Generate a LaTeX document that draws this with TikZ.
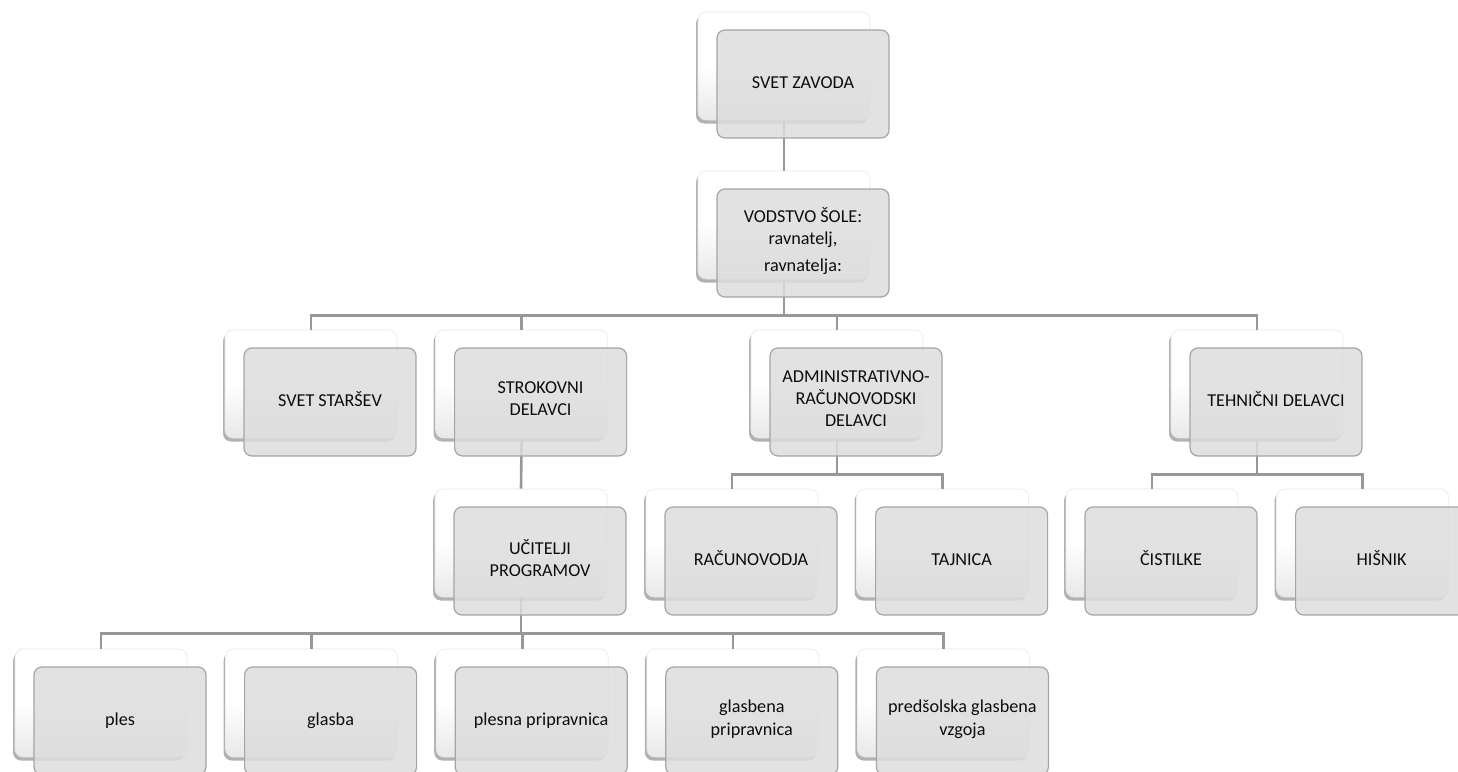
\documentclass[tikz,border=0pt]{standalone}
\usepackage{fontspec}
\setmainfont{Carlito}
\usetikzlibrary{positioning, shadows}

\definecolor{cardgray}{RGB}{221,221,221}
\definecolor{cardline}{RGB}{165,165,165}
\definecolor{linkgray}{RGB}{152,152,152}

\tikzset{
    back/.style={rectangle, rounded corners=8pt, minimum width=172pt, minimum height=108pt, inner sep=0pt,
        draw=black!9, line width=0.6pt,
        top color=white, bottom color=black!9, middle color=white,
        drop shadow={shadow xshift=-2pt, shadow yshift=-3.5pt, opacity=0.4, fill=black!75}},
    card/.style={rectangle, rounded corners=8pt, minimum width=172pt, minimum height=108pt, inner sep=2pt,
        xshift=19pt, yshift=-18pt, draw=cardline, line width=1.2pt, fill=cardgray, fill opacity=0.85,
        text opacity=1, align=center, text=black!95, font=\fontsize{18.2}{22.2}\selectfont,
        execute at begin node=\strut, execute at end node=\strut},
    link/.style={draw=linkgray, line width=2.6pt},
    bus/.style={to path={-- ++(0,#1) -| (\tikztotarget)}},
}

\begin{document}
\begin{tikzpicture}[x=1pt, y=-1pt]
    \useasboundingbox (0,0) rectangle (1458,771);
    \clip (0,0) rectangle (1458,771);
    \fill[white] (0,0) rectangle (1458,771);

    % back cards
    \node[back] (zavodb) at (784,66) {};
    \node[back] (vodstvob) at (784,225) {};
    \node[back] (starsevb) at (311,384) {};
    \node[back, right=38pt of starsevb] (strokovnib) {};
    \node[back] (adminb) at (837,384) {};
    \node[back] (tehnicnib) at (1257,384) {};
    \node[back] (uciteljib) at (521,543) {};
    \node[back] (racunb) at (732,543) {};
    \node[back, right=38pt of racunb] (tajnicab) {};
    \node[back] (cistilkeb) at (1152,543) {};
    \node[back, right=38pt of cistilkeb] (hisnikb) {};
    \node[back] (plesb) at (101,703) {};
    \node[back, right=38pt of plesb] (glasbab) {};
    \node[back, right=38pt of glasbab] (plesnab) {};
    \node[back, right=38pt of plesnab] (glasbenab) {};
    \node[back, right=38pt of glasbenab] (predsolskab) {};

    \draw[link]
        (zavodb.south) edge (vodstvob.north)
        (vodstvob.south) edge[bus=36] (starsevb.north)
        (vodstvob.south) edge[bus=36] (strokovnib.north)
        (vodstvob.south) edge[bus=36] (adminb.north)
        (vodstvob.south) edge[bus=36] (tehnicnib.north)

        (strokovnib.south) edge (uciteljib.north)
        (adminb.south) edge[bus=36] (racunb.north)
        (adminb.south) edge[bus=36] (tajnicab.north)
        (tehnicnib.south) edge[bus=36] (cistilkeb.north)
        (tehnicnib.south) edge[bus=36] (hisnikb.north)

        (uciteljib.south) edge[bus=36] (plesb.north)
        (uciteljib.south) edge[bus=36] (glasbab.north)
        (uciteljib.south) edge[bus=36] (plesnab.north)
        (uciteljib.south) edge[bus=36] (glasbenab.north)
        (uciteljib.south) edge[bus=36] (predsolskab.north);

    % front cards with the texts
    \node[card] (zavod) at (zavodb) {SVET ZAVODA};
    \node[card] (vodstvo) at (vodstvob) {VODSTVO ŠOLE:\\ravnatelj,\\[5pt]ravnatelja:};
    \node[card] (starsev) at (starsevb) {SVET STARŠEV};
    \node[card] (strokovni) at (strokovnib) {STROKOVNI\\DELAVCI};
    \node[card] (admin) at (adminb) {ADMINISTRATIVNO-\\RAČUNOVODSKI\\DELAVCI};
    \node[card] (tehnicni) at (tehnicnib) {TEHNIČNI DELAVCI};
    \node[card] (ucitelji) at (uciteljib) {UČITELJI\\PROGRAMOV};
    \node[card] (racun) at (racunb) {RAČUNOVODJA};
    \node[card] (tajnica) at (tajnicab) {TAJNICA};
    \node[card] (cistilke) at (cistilkeb) {ČISTILKE};
    \node[card] (hisnik) at (hisnikb) {HIŠNIK};
    \node[card] (ples) at (plesb) {ples};
    \node[card] (glasba) at (glasbab) {glasba};
    \node[card] (plesna) at (plesnab) {plesna pripravnica};
    \node[card] (glasbena) at (glasbenab) {glasbena\\pripravnica};
    \node[card] (predsolska) at (predsolskab) {predšolska glasbena\\vzgoja};
\end{tikzpicture}
\end{document}
